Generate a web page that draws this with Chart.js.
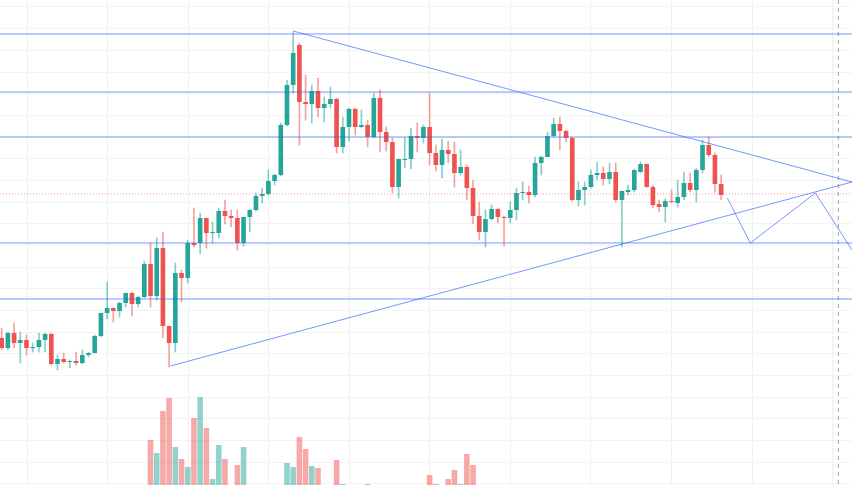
<!DOCTYPE html>
<html>
<head>
<meta charset="utf-8">
<script src="https://cdn.jsdelivr.net/npm/chart.js@4"></script>
<style>
  html, body { margin: 0; padding: 0; background: #fff; }
  #wrap { width: 852px; height: 485px; }
</style>
</head>
<body>
<div id="wrap"><canvas id="chart"></canvas></div>
<script>
// price values are in chart units (axis runs downward, 0 at top)
const opens  = [338,348,333,343,340,348,347,340,334,364,359,362,361,363,355,353,336,313,308,311,303,293,304,297,264,296,248,326,343,273,278,243,243,218,233,233,211,216,218,243,217,210,196,194,181,175,125,85,45,102,104,91,108,104,99,147,127,109,127,125,137,98,132,142,187,160,159,136,138,127,153,165,150,154,173,167,188,216,232,219,209,217,218,210,193,192,195,163,157,136,124,131,138,200,190,187,175,173,179,172,200,192,190,172,164,187,204,207,201,203,197,183,190,170,145,155,184];
const highs  = [328,332,323,332,335,343,333,333,333,355,353,360,352,350,352,335,313,282,308,302,293,292,296,261,243,238,232,326,263,270,240,208,213,218,222,208,200,210,210,217,209,193,188,170,174,123,80,32,43,75,85,78,97,87,98,117,108,108,110,120,93,90,127,138,159,138,128,123,125,93,145,139,141,142,150,165,180,202,210,205,208,216,202,188,182,186,157,156,132,118,117,130,137,182,182,170,162,167,163,163,191,185,169,162,164,185,200,199,190,180,172,173,168,140,137,153,175];
const lows   = [350,350,348,363,355,352,352,352,365,370,363,368,365,364,357,353,337,319,322,317,307,316,307,298,307,300,338,367,352,302,283,247,254,248,243,238,224,227,250,246,232,211,203,195,185,176,126,93,145,120,123,117,122,108,153,153,141,135,128,147,138,152,151,193,198,168,169,152,143,165,171,178,163,187,175,200,224,240,247,220,223,246,223,220,200,203,197,175,157,137,150,142,201,206,205,188,180,185,184,202,247,195,192,173,187,208,212,222,203,207,200,192,202,173,157,192,200];
const closes = [348,333,343,340,348,347,340,334,364,359,362,361,363,355,353,336,313,308,311,303,293,304,297,264,296,248,326,343,273,278,243,245,218,233,232,211,216,218,243,217,210,196,194,181,175,125,85,53,102,104,91,108,104,99,147,127,109,127,125,137,98,132,142,187,159,159,136,138,127,153,165,150,154,173,167,188,216,232,219,209,217,218,210,193,192,195,163,157,136,124,131,138,200,190,187,175,173,179,172,200,191,190,170,164,187,205,207,201,202,197,183,190,170,145,155,184,195];
// volume (bar heights), one per candle, zero where nothing shows
const volumes = [0,0,0,0,0,0,0,0,0,0,0,0,0,0,0,0,0,0,0,0,0,0,0,0,45,32,74,87,38,26,18,67,88,57,6,40,26,0,20,38,0,0,0,0,0,0,22,18,48,36,19,17,0,0,25,1,0,0,0,1,0,0,0,0,0,0,0,0,0,10,1,0,6,15,1,31,20,0,0,0,0,0,0,0,0,0,0,0,0,0,0,0,0,0,0,0,0,0,0,0,0,0,0,0,0,0,0,0,0,0,0,0,0,0,0,0,0];

const levels = [34, 92, 137, 243, 299];
const lastPriceLine = 194;
const triangleTop = [{x: 47.0, y: 31}, {x: 137.1, y: 182}];
const triangleBottom = [{x: 27.2, y: 366}, {x: 137.1, y: 182}];
const projection = [{x: 117.0, y: 198}, {x: 120.7, y: 243}, {x: 131.2, y: 193}, {x: 137.1, y: 250}];
const nowLineX = 134.9;
const gridX = [4.1, 17.1, 30.1, 43.1, 56.1, 69.0, 82.0, 95.0, 108.0, 121.0, 134.0];
const gridY = [6, 28, 50, 72, 93, 115, 137, 158, 180, 202, 223, 245, 267, 288, 310, 332, 353, 375, 397, 418, 440, 462, 483];

const xMin = -0.27, xMax = 137.1;
const GREEN = '#26a69a', RED = '#ef5350';
const up = opens.map((o, i) => closes[i] <= o);

const bodies = opens.map((o, i) => ({x: i, y: [o, closes[i] === o ? o + 0.6 : closes[i]]}));
const wicks = highs.map((h, i) => ({x: i, y: [h, lows[i]]}));
const vols = volumes.map((v, i) => ({x: i, y: v}));

const blue = 'rgba(41,98,255,0.65)';
const lineDs = (data, extra) => Object.assign({
  type: 'line', data, borderColor: blue, borderWidth: 1, pointRadius: 0,
  yAxisID: 'y', fill: false, order: 0
}, extra || {});

const datasets = [
  {type: 'bar', data: vols, yAxisID: 'vol', grouped: false, order: 5,
   backgroundColor: up.map(u => u ? 'rgba(38,166,154,0.5)' : 'rgba(239,83,80,0.5)'),
   barPercentage: 0.9, categoryPercentage: 1},
  {type: 'bar', data: wicks, yAxisID: 'y', grouped: false, order: 3, barThickness: 1,
   backgroundColor: up.map(u => u ? 'rgba(38,166,154,0.55)' : 'rgba(239,83,80,0.55)')},
  {type: 'bar', data: bodies, yAxisID: 'y', grouped: false, order: 2,
   backgroundColor: up.map(u => u ? GREEN : RED),
   barPercentage: 0.75, categoryPercentage: 1},
  ...levels.map(l => lineDs([{x: xMin, y: l}, {x: xMax, y: l}])),
  lineDs([{x: xMin, y: lastPriceLine}, {x: xMax, y: lastPriceLine}],
         {borderColor: 'rgba(239,83,80,0.6)', borderDash: [1, 2]}),
  lineDs(triangleTop),
  lineDs(triangleBottom),
  lineDs(projection),
  lineDs([{x: nowLineX, y: 0}, {x: nowLineX, y: 485}],
         {borderColor: 'rgba(120,120,120,0.7)', borderDash: [4, 4]})
];

new Chart('chart', {
  data: {datasets},
  options: {
    responsive: true,
    maintainAspectRatio: false,
    animation: false,
    layout: {padding: 0},
    plugins: {legend: {display: false}, tooltip: {enabled: false}},
    scales: {
      x: {
        type: 'linear', min: xMin, max: xMax, display: true, offset: false,
        ticks: {display: false}, border: {display: false},
        grid: {color: '#f0f0f0', drawTicks: false, offset: false},
        afterBuildTicks: s => { s.ticks = gridX.map(v => ({value: v})); }
      },
      y: {
        min: 0, max: 485, reverse: true, display: true,
        ticks: {display: false}, border: {display: false},
        grid: {color: '#f3f3f3', drawTicks: false},
        afterBuildTicks: s => { s.ticks = gridY.map(v => ({value: v})); }
      },
      vol: {min: 0, max: 485, display: false}
    }
  }
});
</script>
</body>
</html>
